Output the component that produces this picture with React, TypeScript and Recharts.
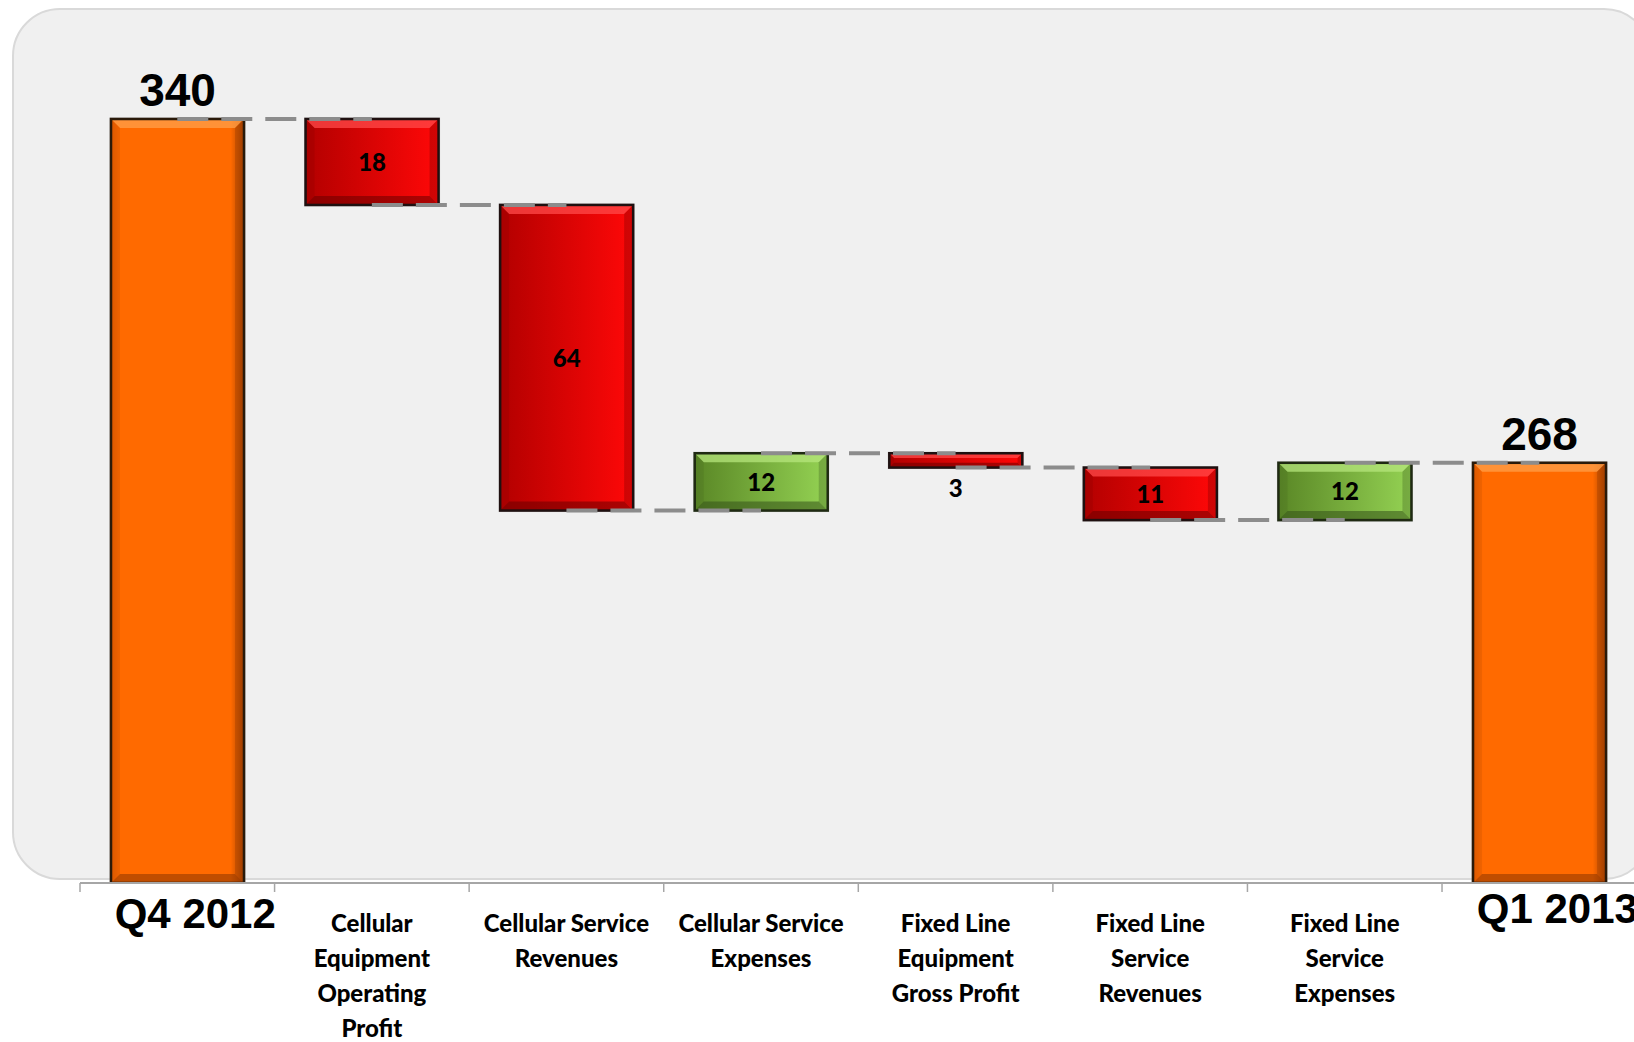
import React from "react";
import { Bar, BarChart, ReferenceLine, XAxis, YAxis } from "recharts";

// Operating profit bridge, Q4 2012 -> Q1 2013
const categories = [
  "Q4 2012",
  "Cellular Equipment Operating Profit",
  "Cellular Service Revenues",
  "Cellular Service Expenses",
  "Fixed Line Equipment Gross Profit",
  "Fixed Line Service Revenues",
  "Fixed Line Service Expenses",
  "Q1 2013",
];

const tickLines = [
  ["Q4 2012"],
  ["Cellular", "Equipment", "Operating", "Profit"],
  ["Cellular Service", "Revenues"],
  ["Cellular Service", "Expenses"],
  ["Fixed Line", "Equipment", "Gross Profit"],
  ["Fixed Line", "Service", "Revenues"],
  ["Fixed Line", "Service", "Expenses"],
  ["Q1 2013"],
];

const startTotal = 340;
const changes = [-18, -64, 12, -3, -11, 12];
const endTotal = 268;

const AXIS_MIN = 180;
const AXIS_MAX = 360;

type Kind = "total" | "up" | "down";
type Row = { name: string; range: [number, number]; kind: Kind; label: number; level: number };

function buildRows(): Row[] {
  const rows: Row[] = [
    { name: categories[0], range: [AXIS_MIN, startTotal], kind: "total", label: startTotal, level: startTotal },
  ];
  let running = startTotal;
  changes.forEach((c, i) => {
    const next = running + c;
    rows.push({
      name: categories[i + 1],
      range: [Math.min(running, next), Math.max(running, next)],
      kind: c < 0 ? "down" : "up",
      label: Math.abs(c),
      level: next,
    });
    running = next;
  });
  rows.push({ name: categories[7], range: [AXIS_MIN, endTotal], kind: "total", label: endTotal, level: endTotal });
  return rows;
}

const rows = buildRows();

const palette: Record<Kind, { light: string; dark: string; edge: string }> = {
  total: { light: "#ffa04a", dark: "#8a3500", edge: "#2a1a0a" },
  down: { light: "#ff4a4a", dark: "#6a0000", edge: "#1f1010" },
  up: { light: "#b6e57c", dark: "#34521a", edge: "#1f2a12" },
};

const ARIAL = '"Liberation Sans", Arial, sans-serif';
const BODY = 'Lato, "Open Sans", sans-serif';

function BevelBar(props: any) {
  const { x, y, width, height, payload } = props;
  const h = Math.abs(height);
  const top = height < 0 ? y + height : y;
  const w = width;
  const kind: Kind = payload.kind;
  const pal = palette[kind];
  const b = Math.min(9, h / 3);
  const cx = x + w / 2;

  let label: React.ReactNode;
  if (kind === "total") {
    label = (
      <text x={cx} y={top - 13} textAnchor="middle" fontFamily={ARIAL} fontWeight={700} fontSize={46} fill="#000">
        {payload.label}
      </text>
    );
  } else if (h < 30) {
    // thin bar: value goes underneath
    label = (
      <text x={cx} y={top + h + 29} textAnchor="middle" fontFamily={BODY} fontWeight={900} fontSize={24} fill="#000">
        {payload.label}
      </text>
    );
  } else {
    label = (
      <text x={cx} y={top + h / 2 + 9} textAnchor="middle" fontFamily={BODY} fontWeight={900} fontSize={24} fill="#000">
        {payload.label}
      </text>
    );
  }

  return (
    <g>
      <rect x={x - 1} y={top - 1} width={w + 2} height={h + 2} fill="none" stroke="#9a9a9a" strokeWidth={1} opacity={0.6} />
      <rect x={x} y={top} width={w} height={h} fill={`url(#fill-${kind})`} />
      <polygon
        points={`${x},${top} ${x + w},${top} ${x + w - b},${top + b} ${x + b},${top + b}`}
        fill={pal.light}
        opacity={0.75}
      />
      <polygon
        points={`${x},${top + h} ${x + w},${top + h} ${x + w - b},${top + h - b} ${x + b},${top + h - b}`}
        fill={pal.dark}
        opacity={0.55}
      />
      <polygon
        points={`${x + w},${top} ${x + w},${top + h} ${x + w - b},${top + h - b} ${x + w - b},${top + b}`}
        fill={pal.dark}
        opacity={0.3}
      />
      <polygon
        points={`${x},${top} ${x},${top + h} ${x + b},${top + h - b} ${x + b},${top + b}`}
        fill={pal.dark}
        opacity={0.15}
      />
      <rect x={x} y={top} width={w} height={h} fill="none" stroke={pal.edge} strokeWidth={2.5} />
      {label}
    </g>
  );
}

function CategoryTick(props: any) {
  const { x, y, payload, index } = props;
  const half = payload.offset ?? 0;
  const lines = tickLines[index] ?? [String(payload.value)];
  const last = categories.length - 1;
  const isTotal = index === 0 || index === last;
  return (
    <g>
      <line x1={x - half} y1={y} x2={x - half} y2={y + 9} stroke="#a6a6a6" strokeWidth={1.5} />
      {isTotal ? (
        <text
          x={x + 18}
          y={y + (index === last ? 40 : 45)}
          textAnchor="middle"
          fontFamily={ARIAL}
          fontWeight={700}
          fontSize={42}
          fill="#000"
        >
          {lines[0]}
        </text>
      ) : (
        <text textAnchor="middle" fontFamily={BODY} fontWeight={900} fontSize={24} fill="#000">
          {lines.map((ln, i) => (
            <tspan key={i} x={x} y={y + 49 + i * 35}>
              {ln}
            </tspan>
          ))}
        </text>
      )}
    </g>
  );
}

export default function App() {
  return (
    <div
      style={{
        position: "absolute",
        left: 0,
        top: 0,
        width: 1634,
        height: 1042,
        overflow: "hidden",
        background: "#ffffff",
      }}
    >
      <div
        style={{
          position: "absolute",
          left: 12,
          top: 8,
          width: 1640,
          height: 872,
          boxSizing: "border-box",
          border: "2px solid #d9d9d9",
          borderRadius: 48,
          background: "#f0f0f0",
        }}
      />
      <div style={{ position: "absolute", left: 0, top: 0 }}>
        <BarChart
          width={1700}
          height={1042}
          data={rows}
          margin={{ top: 23.5, right: 63.4, left: 80, bottom: 0 }}
        >
          <defs>
            <linearGradient id="fill-total" x1="0" y1="0" x2="1" y2="0">
              <stop offset="0%" stopColor="#e85e00" />
              <stop offset="6%" stopColor="#ff6a00" />
              <stop offset="90%" stopColor="#ff6a00" />
              <stop offset="100%" stopColor="#a84300" />
            </linearGradient>
            <linearGradient id="fill-down" x1="0" y1="0" x2="1" y2="0">
              <stop offset="0%" stopColor="#b30000" />
              <stop offset="100%" stopColor="#ff0808" />
            </linearGradient>
            <linearGradient id="fill-up" x1="0" y1="0" x2="1" y2="0">
              <stop offset="0%" stopColor="#5a8726" />
              <stop offset="100%" stopColor="#94d253" />
            </linearGradient>
          </defs>
          <XAxis
            dataKey="name"
            type="category"
            height={159}
            interval={0}
            tickSize={0}
            tickMargin={0}
            tickLine={false}
            axisLine={{ stroke: "#a6a6a6", strokeWidth: 2 }}
            tick={<CategoryTick />}
          />
          <YAxis hide type="number" domain={[AXIS_MIN, AXIS_MAX]} allowDataOverflow />
          <Bar dataKey="range" barSize={133} shape={<BevelBar />} isAnimationActive={false} />
          {rows.slice(0, -1).map((r, i) => (
            <ReferenceLine
              key={r.name}
              segment={[
                { x: r.name, y: r.level },
                { x: rows[i + 1].name, y: r.level },
              ]}
              stroke="#8c8c8c"
              strokeWidth={4}
              strokeDasharray="31 13"
              ifOverflow="visible"
            />
          ))}
        </BarChart>
      </div>
    </div>
  );
}
